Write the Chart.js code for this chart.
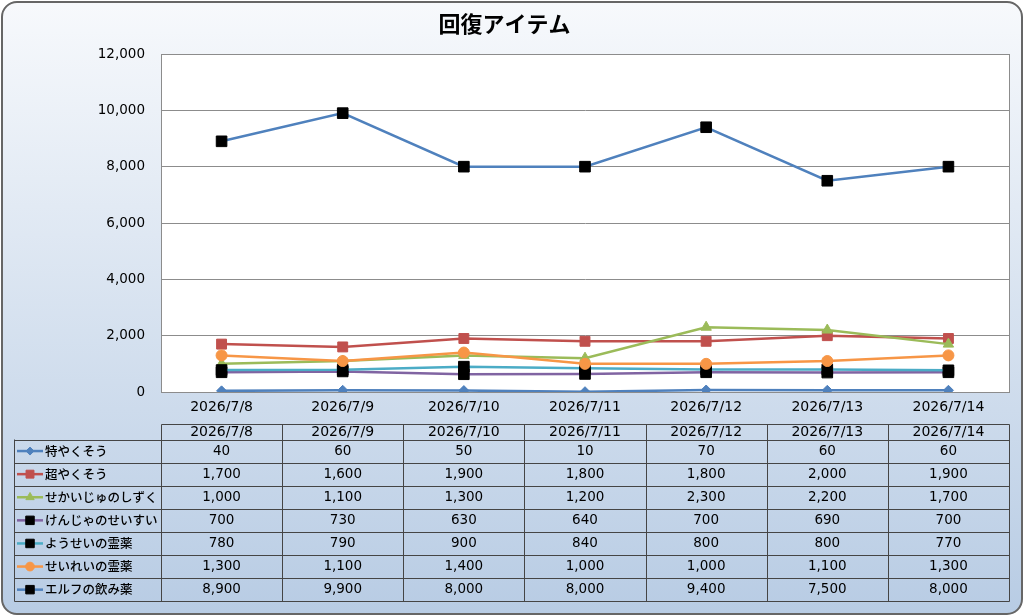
<!DOCTYPE html>
<html>
<head>
<meta charset="utf-8">
<script src="https://cdn.jsdelivr.net/npm/chart.js@4.4.0/dist/chart.umd.min.js"></script>
<style>
html, body { margin: 0; padding: 0; background: #fff; }
#frame {
    position: absolute; left: 1px; top: 1px;
    width: 1018px; height: 610px;
    border: 2px solid #666; border-radius: 16px;
    background: linear-gradient(#f7f9fc, #b8cce4);
}
#box { position: absolute; left: 0; top: 0; width: 1024px; height: 616px; }
</style>
</head>
<body>
<div id="frame"></div>
<div id="box"><canvas id="chart" width="1024" height="616"></canvas></div>
<script>
//latin glyphs from DejaVu (wide digits), japanese falls back to Noto CJK
const FONT = "'DejaVu Sans', 'Noto Sans CJK JP', sans-serif";
const JFONT = "'Noto Sans CJK JP', sans-serif";

//categories
const dates = ["2026/7/8", "2026/7/9", "2026/7/10", "2026/7/11", "2026/7/12", "2026/7/13", "2026/7/14"];
//series names
const names = ["特やくそう", "超やくそう", "せかいじゅのしずく", "けんじゃのせいすい", "ようせいの霊薬", "せいれいの霊薬", "エルフの飲み薬"];
//series values
const tokuyakusou = [40, 60, 50, 10, 70, 60, 60];
const chouyakusou = [1700, 1600, 1900, 1800, 1800, 2000, 1900];
const sekaiju = [1000, 1100, 1300, 1200, 2300, 2200, 1700];
const kenja = [700, 730, 630, 640, 700, 690, 700];
const yousei = [780, 790, 900, 840, 800, 800, 770];
const seirei = [1300, 1100, 1400, 1000, 1000, 1100, 1300];
const elf = [8900, 9900, 8000, 8000, 9400, 7500, 8000];
//y axis ticks
const yMin = 0, yMax = 12000, yStep = 2000;

const seriesValues = [tokuyakusou, chouyakusou, sekaiju, kenja, yousei, seirei, elf];

//line colour, marker shape / colour / size per series
const looks = [
    { line: "#4f81bd", style: "rectRot", fill: "#4f81bd", r: 5 },
    { line: "#c0504d", style: "rect", fill: "#c0504d", r: 7 },
    { line: "#9bbb59", style: "triangle", fill: "#9bbb59", r: 6 },
    { line: "#8064a2", style: "rect", fill: "#000000", r: 7.5 },
    { line: "#4bacc6", style: "rect", fill: "#000000", r: 7.5 },
    { line: "#f79646", style: "circle", fill: "#f79646", r: 5.5 },
    { line: "#4f81bd", style: "rect", fill: "#000000", r: 7.5 },
];

const fmt = (v) => v.toLocaleString("en-US");

//white plot area
const plotBg = {
    id: "plotBg",
    beforeDraw(chart) {
        const { ctx, chartArea: a } = chart;
        ctx.save();
        ctx.fillStyle = "#ffffff";
        ctx.fillRect(a.left, a.top, a.right - a.left, a.bottom - a.top);
        ctx.strokeStyle = "#8c8c8c";
        ctx.lineWidth = 1;
        ctx.strokeRect(Math.round(a.left) + 0.5, Math.round(a.top) + 0.5, Math.round(a.right - a.left), Math.round(a.bottom - a.top));
        ctx.restore();
    },
};

//marker for the table keys
function drawKey(ctx, look, x, y) {
    const h = Chart.helpers;
    ctx.fillStyle = look.fill;
    ctx.strokeStyle = look.fill;
    if (h && h.drawPoint) {
        h.drawPoint(ctx, { pointStyle: look.style, radius: look.r * 0.8, borderWidth: 1, rotation: 0 }, x, y);
    } else {
        ctx.fillRect(x - 4, y - 4, 8, 8);
    }
}

//data table under the x axis, columns taken from the x scale
const dataTable = {
    id: "dataTable",
    afterDraw(chart) {
        const ctx = chart.ctx;
        const x = chart.scales.x;
        const band = (x.right - x.left) / dates.length;
        const top = 424.5;
        const headH = 15;
        const rowH = 23.1;
        const keyLeft = 14.5;
        const bottom = top + headH + rowH * names.length;
        const right = Math.round(x.right) + 0.5;
        const left = Math.round(x.left) + 0.5;

        ctx.save();
        ctx.strokeStyle = "#454545";
        ctx.lineWidth = 1;
        ctx.beginPath();
        ctx.moveTo(left, top); ctx.lineTo(right, top);
        for (let r = 0; r <= names.length; r++) {
            const yy = Math.round(top + headH + r * rowH) + 0.5;
            ctx.moveTo(keyLeft, yy); ctx.lineTo(right, yy);
        }
        ctx.moveTo(keyLeft, top + headH); ctx.lineTo(keyLeft, Math.round(bottom) + 0.5);
        for (let c = 0; c <= dates.length; c++) {
            const xx = Math.round(x.left + c * band) + 0.5;
            ctx.moveTo(xx, top); ctx.lineTo(xx, Math.round(bottom) + 0.5);
        }
        ctx.stroke();

        ctx.fillStyle = "#000";
        ctx.textAlign = "center";
        ctx.textBaseline = "middle";
        ctx.font = "14px " + FONT;
        dates.forEach((d, i) => {
            ctx.fillText(d, x.getPixelForValue(i), top + headH / 2 + 0.5);
        });
        ctx.font = "13.5px " + FONT;
        seriesValues.forEach((vals, r) => {
            const cy = top + headH + r * rowH + rowH / 2;
            vals.forEach((v, i) => {
                ctx.fillText(fmt(v), x.getPixelForValue(i), cy);
            });
        });

        //keys and names
        ctx.textAlign = "left";
        names.forEach((n, r) => {
            const cy = top + headH + r * rowH + rowH / 2;
            const look = looks[r];
            ctx.strokeStyle = look.line;
            ctx.lineWidth = 2.5;
            ctx.beginPath();
            ctx.moveTo(17, cy); ctx.lineTo(43, cy);
            ctx.stroke();
            ctx.lineWidth = 1;
            drawKey(ctx, look, 30, cy);
            ctx.fillStyle = "#000";
            ctx.font = "500 12.5px " + JFONT;
            ctx.fillText(n, 45, cy);
        });
        ctx.restore();
    },
};

const datasets = names.map((n, i) => ({
    label: n,
    data: seriesValues[i],
    borderColor: looks[i].line,
    borderWidth: 2.5,
    pointStyle: looks[i].style,
    pointRadius: looks[i].r,
    pointBackgroundColor: looks[i].fill,
    pointBorderColor: looks[i].fill,
    pointBorderWidth: 1,
    tension: 0,
    order: -i,
}));

new Chart(document.getElementById("chart"), {
    type: "line",
    plugins: [plotBg, dataTable],
    data: { labels: dates, datasets: datasets },
    options: {
        responsive: false,
        animation: false,
        layout: { padding: { left: 0, right: 15, top: 0, bottom: 194 } },
        plugins: {
            legend: { display: false },
            tooltip: { enabled: false },
            title: {
                display: true,
                text: "回復アイテム",
                color: "#000",
                font: { family: JFONT, size: 22, weight: "bold", lineHeight: 1.1 },
                padding: { top: 12, bottom: 17.8 },
            },
        },
        scales: {
            x: {
                offset: true,
                grid: { display: false, drawTicks: false },
                border: { color: "#8c8c8c" },
                ticks: { color: "#000", font: { family: FONT, size: 14 }, padding: 7, maxRotation: 0 },
                afterFit(s) { s.height = 30; },
            },
            y: {
                min: yMin,
                max: yMax,
                grid: { color: "#8c8c8c", drawTicks: false },
                border: { color: "#8c8c8c" },
                ticks: {
                    stepSize: yStep,
                    color: "#000",
                    padding: 16,
                    font: { family: FONT, size: 13.5 },
                    callback: (v) => fmt(v),
                },
                afterFit(s) { s.width = 161; },
            },
        },
    },
});
</script>
</body>
</html>
